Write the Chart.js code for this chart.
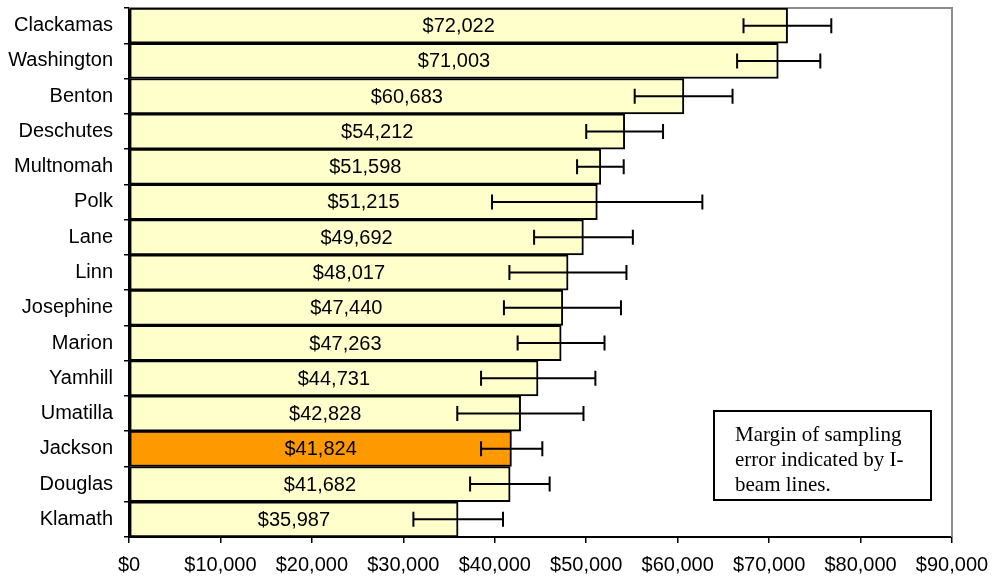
<!DOCTYPE html>
<html>
<head>
<meta charset="utf-8">
<script src="https://cdn.jsdelivr.net/npm/chart.js@4.4.1/dist/chart.umd.min.js"></script>
<style>
  html, body { margin: 0; padding: 0; background: #fff; }
  #wrap { width: 995px; height: 579px; position: relative; }
</style>
</head>
<body>
<div id="wrap"><canvas id="incomeChart" width="995" height="579"></canvas></div>
<script>
// County names, top to bottom
const counties = ['Clackamas', 'Washington', 'Benton', 'Deschutes', 'Multnomah', 'Polk', 'Lane',
  'Linn', 'Josephine', 'Marion', 'Yamhill', 'Umatilla', 'Jackson', 'Douglas', 'Klamath'];

// Median household income estimates
const incomes = [72022, 71003, 60683, 54212, 51598, 51215, 49692, 48017, 47440, 47263, 44731, 42828, 41824, 41682, 35987];

// Margin of error ends
const errLow = [67200, 66500, 55300, 50000, 49000, 39700, 44300, 41600, 41000, 42500, 38500, 35900, 38500, 37300, 31100];
const errHigh = [76800, 75600, 66000, 58400, 54100, 62700, 55100, 54400, 53800, 52000, 51000, 49700, 45200, 46000, 40900];

const highlight = 'Jackson';
const xTicks = [0, 10000, 20000, 30000, 40000, 50000, 60000, 70000, 80000, 90000];

const noteLines = ['Margin of sampling', 'error indicated by I-', 'beam lines.'];

const money = v => '$' + v.toLocaleString('en-US');

// frame, I-beams, value labels and the note box
const extrasPlugin = {
  id: 'extras',
  beforeDatasetsDraw(chart) {
    const { ctx, chartArea: a } = chart;
    ctx.save();
    ctx.strokeStyle = '#8c8c8c';
    ctx.lineWidth = 2;
    ctx.beginPath();
    ctx.moveTo(a.left, a.top);
    ctx.lineTo(a.right, a.top);
    ctx.lineTo(a.right, a.bottom);
    ctx.stroke();
    ctx.restore();
  },
  afterDatasetsDraw(chart) {
    const { ctx } = chart;
    const xs = chart.scales.x;
    const bars = chart.getDatasetMeta(0).data;
    ctx.save();

    // value labels in the middle of each bar
    ctx.fillStyle = '#000';
    ctx.font = '20px "Liberation Sans", Arial, sans-serif';
    ctx.textAlign = 'center';
    ctx.textBaseline = 'middle';
    bars.forEach((bar, i) => {
      ctx.fillText(money(incomes[i]), (bar.base + bar.x) / 2, bar.y + 1);
    });

    // error bars
    ctx.strokeStyle = '#000';
    ctx.lineWidth = 2;
    bars.forEach((bar, i) => {
      const lo = xs.getPixelForValue(errLow[i]);
      const hi = xs.getPixelForValue(errHigh[i]);
      ctx.beginPath();
      ctx.moveTo(lo, bar.y);
      ctx.lineTo(hi, bar.y);
      ctx.moveTo(lo, bar.y - 7.5);
      ctx.lineTo(lo, bar.y + 7.5);
      ctx.moveTo(hi, bar.y - 7.5);
      ctx.lineTo(hi, bar.y + 7.5);
      ctx.stroke();
    });

    // note box
    const bx = 714, by = 411, bw = 217, bh = 89;
    ctx.fillStyle = '#fff';
    ctx.fillRect(bx, by, bw, bh);
    ctx.strokeRect(bx, by, bw, bh);
    ctx.fillStyle = '#000';
    ctx.font = '21px "Liberation Serif", "Times New Roman", serif';
    ctx.textAlign = 'left';
    ctx.textBaseline = 'alphabetic';
    noteLines.forEach((line, i) => {
      ctx.fillText(line, bx + 21, by + 30 + i * 25);
    });
    ctx.restore();
  }
};

const ctx = document.getElementById('incomeChart').getContext('2d');
new Chart(ctx, {
  type: 'bar',
  data: {
    labels: counties,
    datasets: [{
      data: incomes,
      backgroundColor: counties.map(c => c === highlight ? '#FF9900' : '#FFFFCC'),
      borderColor: '#000',
      borderWidth: 2,
      borderSkipped: false,
      barPercentage: 1,
      categoryPercentage: 1
    }]
  },
  options: {
    indexAxis: 'y',
    responsive: false,
    animation: false,
    layout: { padding: { top: 8, right: 43, left: 0, bottom: 0 } },
    plugins: {
      legend: { display: false },
      tooltip: { enabled: false }
    },
    scales: {
      x: {
        min: 0,
        max: 90000,
        afterBuildTicks: axis => { axis.ticks = xTicks.map(v => ({ value: v })); },
        afterFit: axis => {
          axis.height = 42;
          axis.paddingLeft = 0;
          axis.paddingRight = 0;
        },
        border: { display: true, color: '#000', width: 2 },
        grid: { drawOnChartArea: false, drawTicks: true, tickLength: 6, color: '#000', lineWidth: 1.5 },
        ticks: {
          color: '#000',
          font: { family: '"Liberation Sans", Arial, sans-serif', size: 20 },
          padding: 10,
          maxRotation: 0,
          autoSkip: false,
          callback: v => money(v)
        }
      },
      y: {
        afterFit: axis => {
          axis.width = 129;
          axis.paddingTop = 0;
          axis.paddingBottom = 0;
        },
        border: { display: true, color: '#000', width: 2 },
        grid: { drawOnChartArea: false, drawTicks: true, tickLength: 5, color: '#000', lineWidth: 1.5, offset: true },
        ticks: {
          color: '#000',
          font: { family: '"Liberation Sans", Arial, sans-serif', size: 20 },
          padding: 11,
          autoSkip: false
        }
      }
    }
  },
  plugins: [extrasPlugin]
});
</script>
</body>
</html>
